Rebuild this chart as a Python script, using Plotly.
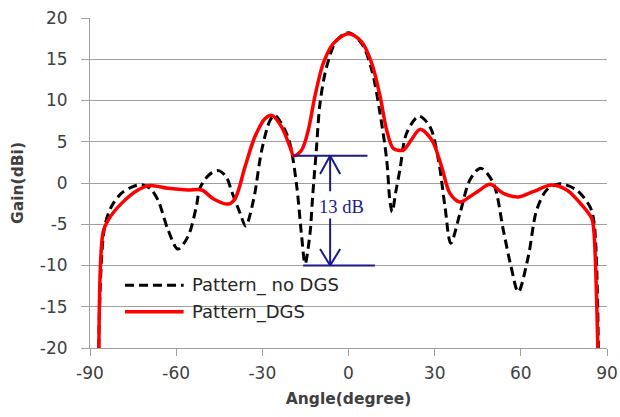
import plotly.graph_objects as go

# Pattern_ no DGS (black dashed)
angle_nodgs = [-87, -85, -82.6, -79.1, -75.5, -72, -69, -66.3, -62.8, -59.4, -55.9, -53, -51.7,
               -48.5, -45.3, -42.5, -40.7, -37.8, -35.8, -33.1, -30.2, -27.3, -25.7, -22.1, -20.2,
               -18.0, -16.3, -15.1, -13.4, -12.5, -11.2, -9.9, -7.6, -4.1, 0, 4.6, 8.1, 11, 13.3,
               14.4, 15.2, 16.5, 17.9, 20.2, 24.5, 28.4, 31.3, 33.6, 35.6, 38.8, 42.3, 46, 50.4,
               53.9, 56.5, 59.1, 62.6, 65.5, 69, 73.6, 79.4, 84.1, 85.5, 87]
gain_nodgs = [-20, -5.5, -2.9, -1.25, -0.5, -0.2, -0.7, -2.1, -5.7, -8.0, -6.5, -2.9, -0.6,
              1.0, 1.5, 0.7, -1.0, -3.6, -5.2, -2.1, 4.0, 7.6, 8.2, 6.4, 4.5,
              -0.45, -6.5, -9.8, -6.1, -1.7, 4.0, 9.7, 14.1, 17.3, 18.2, 16.9, 13.7, 8.4, 2.8,
              -2.1, -3.5, -1.0, 1.6, 6.0, 8.1, 6.8, 2.8, -2.9, -7.3, -3.7, 0.4, 1.8, 0,
              -5.7, -10, -13.2, -8.9, -3.3, -0.85, -0.1, -0.85, -2.9, -4.8, -20]

# Pattern_DGS (red solid)
angle_dgs = [-86.9, -85.4, -83.7, -79.1, -73.3, -69.2, -62.8, -55.9, -51.1, -47.1, -41.8, -39.5,
             -36, -32.6, -29.1, -26.7, -23.3, -20.4, -19.0, -16.3, -14, -11.7, -8.8, -5.3, 0,
             4.6, 8.1, 11, 13.3, 15.6, 19.1, 21.8, 24.9, 29, 32.4, 35.3, 38.8, 42.3, 45.5, 49.3,
             53.9, 59.1, 64.3, 70.7, 76, 81.8, 84.7, 85.4, 86.8]
gain_dgs = [-20, -5.9, -4.5, -2.5, -0.85, -0.3, -0.65, -0.85, -0.85, -1.9, -2.55, -1.9,
            2.0, 5.6, 7.8, 8.2, 6.8, 4.4, 3.3, 4.0, 6.4, 10.5, 14.5, 16.9, 18.1,
            17.1, 14.5, 10.5, 6.4, 4.2, 4.0, 5.2, 6.5, 5.2, 2.0, -1.25, -2.3, -1.65, -0.9, -0.16,
            -1.25, -1.7, -1.05, -0.25, -0.85, -2.9, -4.3, -5.7, -20]

x_ticks = [-90, -60, -30, 0, 30, 60, 90]
y_ticks = [-20, -15, -10, -5, 0, 5, 10, 15, 20]

series_names = ["Pattern_ no DGS", "Pattern_DGS"]

GRID = "#a0a0a0"
TXT = "#404040"
NAVY = "#1a1a8c"

fig = go.Figure()
fig.add_trace(go.Scatter(x=angle_nodgs, y=gain_nodgs, mode="lines", name=series_names[0],
                         line=dict(color="black", width=3, dash="9px,5px", shape="spline", smoothing=0.9),
                         showlegend=False))
fig.add_trace(go.Scatter(x=angle_dgs, y=gain_dgs, mode="lines", name=series_names[1],
                         line=dict(color="#ff0000", width=3.5, shape="spline", smoothing=0.9),
                         showlegend=False))

shapes = []
# white box behind the "13 dB" label (hides gridline)
shapes.append(dict(type="rect", xref="x", yref="y", x0=-11, x1=12, y0=-3.3, y1=-6.5,
                   fillcolor="white", line=dict(width=0), layer="below"))
# annotation lines for 13 dB
bl = dict(color=NAVY, width=2)
shapes += [
    dict(type="line", x0=-19.3, x1=6.6, y0=3.3, y1=3.3, line=bl),
    dict(type="line", x0=-15.8, x1=9.2, y0=-10, y1=-10, line=bl),
    dict(type="line", x0=-6.4, x1=-6.4, y0=3.3, y1=-1.0, line=bl),
    dict(type="line", x0=-6.4, x1=-9.9, y0=3.3, y1=1.1, line=bl),
    dict(type="line", x0=-6.4, x1=-2.9, y0=3.3, y1=1.1, line=bl),
    dict(type="line", x0=-6.4, x1=-6.4, y0=-4.3, y1=-10, line=bl),
    dict(type="line", x0=-6.4, x1=-9.9, y0=-10, y1=-8.0, line=bl),
    dict(type="line", x0=-6.4, x1=-2.9, y0=-10, y1=-8.0, line=bl),
]
# legend samples
shapes += [
    dict(type="line", x0=-77.8, x1=-57.4, y0=-12.4, y1=-12.4,
         line=dict(color="black", width=3, dash="9px,5px")),
    dict(type="line", x0=-77.8, x1=-57.4, y0=-15.6, y1=-15.6,
         line=dict(color="#ff0000", width=3.5)),
]

annotations = [
    dict(x=-2.4, y=-2.9, text="13 dB", showarrow=False, xanchor="center", yanchor="middle",
         font=dict(family="Liberation Serif", size=18.5, color=NAVY)),
    dict(x=-55.3, y=-12.4, text=series_names[0], showarrow=False, xanchor="left", yanchor="middle",
         font=dict(family="DejaVu Sans", size=18, color="#262626")),
    dict(x=-55.3, y=-15.6, text=series_names[1], showarrow=False, xanchor="left", yanchor="middle",
         font=dict(family="DejaVu Sans", size=18, color="#262626")),
]

fig.update_layout(
    width=620, height=417,
    margin=dict(l=90, r=13, t=18, b=69),
    paper_bgcolor="white", plot_bgcolor="white",
    showlegend=False,
    shapes=shapes, annotations=annotations,
    font=dict(family="DejaVu Sans", color=TXT),
    xaxis=dict(range=[-90, 90], tickvals=x_ticks, ticktext=[str(v) for v in x_ticks],
               automargin=False,
               showgrid=False, zeroline=False, showline=True, linecolor=GRID, linewidth=1,
               ticks="outside", ticklen=7, tickcolor=GRID, ticklabelstandoff=3,
               tickfont=dict(family="DejaVu Sans", size=17, color=TXT),
               title=dict(text="Angle(degree)", standoff=10,
                          font=dict(family="DejaVu Sans", size=15.5, color=TXT, weight="bold"))),
    yaxis=dict(range=[-20, 20], tickvals=y_ticks, ticktext=[str(v) for v in y_ticks],
               automargin=False,
               showgrid=True, gridcolor=GRID, gridwidth=1, zeroline=False,
               showline=True, linecolor=GRID, linewidth=1,
               ticks="outside", ticklen=8, tickcolor=GRID, ticklabelstandoff=10,
               tickfont=dict(family="DejaVu Sans", size=17, color=TXT),
               title=dict(text="Gain(dBi)", standoff=12,
                          font=dict(family="DejaVu Sans", size=15.5, color=TXT, weight="bold"))),
)

fig.write_html("out.html")
